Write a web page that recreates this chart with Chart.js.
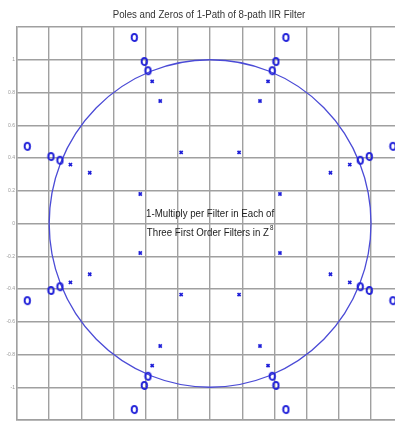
<!DOCTYPE html>
<html>
<head>
<meta charset="utf-8">
<script src="https://cdn.jsdelivr.net/npm/chart.js@4/dist/chart.umd.min.js"></script>
<style>
  body { margin: 0; background: #fff; }
  canvas { display: block; }
</style>
</head>
<body>
<canvas id="pzChart" width="395" height="425"></canvas>
<script>
    // zeros (o) of the three first order sections, 8 directions each
    const zerosX = [1.136, 0.471, -0.471, -1.136, -1.136, -0.471, 0.471, 1.136,
                    0.989, 0.409, -0.409, -0.989, -0.989, -0.409, 0.409, 0.989,
                    0.933, 0.386, -0.386, -0.933, -0.933, -0.386, 0.386, 0.933];
    const zerosY = [0.471, 1.136, 1.136, 0.471, -0.471, -1.136, -1.136, -0.471,
                    0.409, 0.989, 0.989, 0.409, -0.409, -0.989, -0.989, -0.409,
                    0.386, 0.933, 0.933, 0.386, -0.386, -0.933, -0.933, -0.386];

    // poles (x)
    const polesX = [0.868, 0.360, -0.360, -0.868, -0.868, -0.360, 0.360, 0.868,
                    0.748, 0.310, -0.310, -0.748, -0.748, -0.310, 0.310, 0.748,
                    0.434, 0.180, -0.180, -0.434, -0.434, -0.180, 0.180, 0.434];
    const polesY = [0.360, 0.868, 0.868, 0.360, -0.360, -0.868, -0.868, -0.360,
                    0.310, 0.748, 0.748, 0.310, -0.310, -0.748, -0.748, -0.310,
                    0.180, 0.434, 0.434, 0.180, -0.180, -0.434, -0.434, -0.180];

    // grid positions and y tick labels
    const xGrid = [-1.2, -1.0, -0.8, -0.6, -0.4, -0.2, 0, 0.2, 0.4, 0.6, 0.8, 1.0];
    const yGrid = [-1.2, -1.0, -0.8, -0.6, -0.4, -0.2, 0, 0.2, 0.4, 0.6, 0.8, 1.0, 1.2];
    const yLabels = ['', '-1', '-0.8', '-0.6', '-0.4', '-0.2', '0', '0.2', '0.4', '0.6', '0.8', '1', ''];

    const chartTitle = 'Poles and Zeros of 1-Path of 8-path IIR Filter';
    const noteLine1 = '1-Multiply per Filter in Each of';
    const noteLine2 = 'Three First Order Filters in Z';
    const noteSup = '8';

    const blue = '#1e1ed8';
    const gridColor = '#a0a0a0';
    const squeeze = 0.88;   // narrow the Arial text a bit

    // "o" marker, a little taller than wide
    function makeZeroMarker() {
        const c = document.createElement('canvas');
        c.width = 9;
        c.height = 11;
        const g = c.getContext('2d');
        g.strokeStyle = blue;
        g.lineWidth = 1.9;
        g.beginPath();
        g.ellipse(4.5, 5.5, 2.7, 3.6, 0, 0, Math.PI * 2);
        g.stroke();
        return c;
    }

    // centered text, squeezed horizontally
    function narrowText(ctx, str, x, y) {
        ctx.save();
        ctx.translate(x, y);
        ctx.scale(squeeze, 1);
        ctx.fillText(str, 0, 0);
        ctx.restore();
    }

    // unit circle, title and the note in the middle
    const unitCircle = {
        id: 'unitCircle',
        beforeDatasetsDraw(chart) {
            const { ctx, scales: { x, y } } = chart;
            const cx = x.getPixelForValue(0);
            const cy = y.getPixelForValue(0);
            const rx = x.getPixelForValue(1) - cx;
            const ry = cy - y.getPixelForValue(1);
            ctx.save();
            ctx.strokeStyle = '#4b4bd6';
            ctx.lineWidth = 1.3;
            ctx.beginPath();
            ctx.ellipse(cx, cy, rx, ry, 0, 0, Math.PI * 2);
            ctx.stroke();
            ctx.restore();
        },
        afterDatasetsDraw(chart) {
            const { ctx, scales: { x, y } } = chart;
            const cx = x.getPixelForValue(0);
            ctx.save();
            ctx.textBaseline = 'alphabetic';
            ctx.textAlign = 'center';

            ctx.fillStyle = '#333';
            ctx.font = '11px Arial';
            narrowText(ctx, chartTitle, 209, 18);

            ctx.fillStyle = '#222';
            narrowText(ctx, noteLine1, cx, y.getPixelForValue(0.04));

            // second line with a raised exponent on Z
            const w2 = ctx.measureText(noteLine2).width * squeeze;
            ctx.font = '7px Arial';
            const ws = ctx.measureText(noteSup).width * squeeze;
            const left = cx - (w2 + ws + 1) / 2;
            const base2 = y.getPixelForValue(-0.076);
            ctx.font = '11px Arial';
            narrowText(ctx, noteLine2, left + w2 / 2, base2);
            ctx.font = '7px Arial';
            narrowText(ctx, noteSup, left + w2 + 1 + ws / 2, base2 - 6);
            ctx.restore();
        }
    };

    const ctx = document.getElementById('pzChart');

    const chart = new Chart(ctx, {
        type: 'scatter',
        data: {
            datasets: [{
                label: 'zeros',
                data: zerosX.map((v, i) => ({ x: v, y: zerosY[i] })),
                pointStyle: makeZeroMarker(),
                pointRadius: 4,
                borderColor: blue,
                backgroundColor: blue
            }, {
                label: 'poles',
                data: polesX.map((v, i) => ({ x: v, y: polesY[i] })),
                pointStyle: 'crossRot',
                pointRadius: 2.2,
                borderWidth: 1.7,
                borderColor: blue,
                backgroundColor: blue
            }]
        },
        options: {
            responsive: false,
            animation: false,
            layout: {
                autoPadding: false,
                padding: { left: 0, right: 0, top: 27, bottom: 2 }
            },
            plugins: {
                legend: { display: false },
                tooltip: { enabled: false },
                title: { display: false }
            },
            scales: {
                x: {
                    type: 'linear',
                    min: -1.2,
                    max: 1.149,
                    afterBuildTicks: s => { s.ticks = xGrid.map(v => ({ value: v })); },
                    ticks: { display: false },
                    grid: { color: gridColor, lineWidth: 1.4, drawTicks: false },
                    border: { color: gridColor, width: 1.4 }
                },
                y: {
                    type: 'linear',
                    min: -1.2,
                    max: 1.2,
                    afterBuildTicks: s => { s.ticks = yGrid.map(v => ({ value: v })); },
                    afterFit: s => { s.width = 17; },
                    ticks: {
                        callback: (v, i) => yLabels[i],
                        color: '#999',
                        font: { family: 'Arial', size: 5 },
                        padding: 2
                    },
                    grid: { color: gridColor, lineWidth: 1.4, drawTicks: false },
                    border: { color: gridColor, width: 1.4 }
                }
            }
        },
        plugins: [unitCircle]
    });
</script>
</body>
</html>
